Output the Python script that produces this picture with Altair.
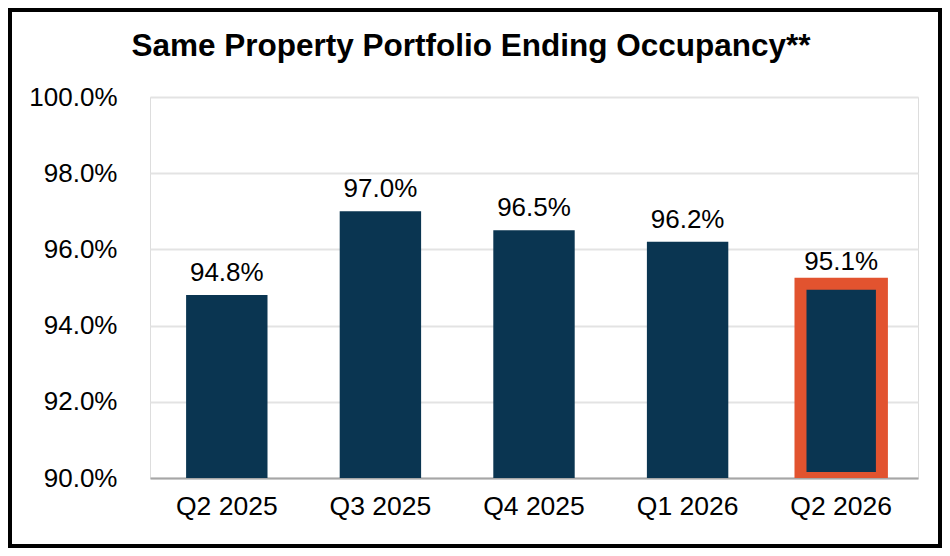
import altair as alt
import pandas as pd

quarters = ["Q2 2025", "Q3 2025", "Q4 2025", "Q1 2026", "Q2 2026"]
occupancy = [94.8, 97.0, 96.5, 96.2, 95.1]
highlight = [False, False, False, False, True]
y_ticks = [90, 92, 94, 96, 98, 100]
title_text = "Same Property Portfolio Ending Occupancy**"

df = pd.DataFrame({"quarter": quarters, "occ": occupancy, "hl": highlight})
df["label"] = df["occ"].map(lambda v: f"{v:.1f}%")

W, H = 768, 381
PL, PT, PR, PB = 142, 89, 24, 70
NAVY = "#0a3551"
ORANGE = "#e2532f"
FONT = "Liberation Sans"

x = alt.X("quarter:N", sort=quarters, title=None,
          scale=alt.Scale(paddingInner=0.47, paddingOuter=0.235),
          axis=alt.Axis(labelAngle=0, labelFontSize=26.5, labelFont=FONT, labelColor="#000000",
                        domainColor="#a6a6a6", domainWidth=2, ticks=False, labelPadding=15))
y = alt.Y("occ:Q", title=None,
          scale=alt.Scale(domain=[90, 100], zero=False, clamp=True),
          axis=alt.Axis(values=y_ticks, labelExpr="format(datum.value, '.1f') + '%'",
                        labelFontSize=26, labelFont=FONT, labelColor="#000000",
                        domain=False, ticks=False, labelPadding=33,
                        gridColor="#e3e3e3", gridWidth=2))

base = alt.Chart(df)

bars = base.transform_filter("!datum.hl").mark_bar(color=NAVY).encode(x=x, y=y)
hl_bar = base.transform_filter("datum.hl").mark_bar(
    color=NAVY, stroke=ORANGE, strokeWidth=12, clip=True).encode(x=x, y=y)
labels = base.mark_text(fontSize=26, font=FONT, color="#000000", baseline="alphabetic", dy=-14).encode(
    x=x, y=y, text="label:N")

title = alt.Chart(pd.DataFrame({"t": [title_text]})).mark_text(
    font=FONT, fontSize=31.5, fontWeight="bold", color="#000000",
    align="center", baseline="alphabetic").encode(
    x=alt.value(321), y=alt.value(-41), text="t:N")

frame = alt.Chart(df).mark_rect(fill=None, stroke="#000000", strokeWidth=4, clip=False).encode(
    x=alt.value(-PL + 2), x2=alt.value(W + PR - 2),
    y=alt.value(-PT + 2), y2=alt.value(H + PB - 2))

chart = alt.layer(bars, hl_bar, labels, title, frame).properties(
    width=W, height=H,
    padding={"left": PL, "top": PT, "right": PR, "bottom": PB},
    autosize=alt.AutoSizeParams(type="none"),
).configure_view(stroke=None).configure(background="#ffffff")

chart.save("out.html", embed_options={"renderer": "svg", "actions": False})
